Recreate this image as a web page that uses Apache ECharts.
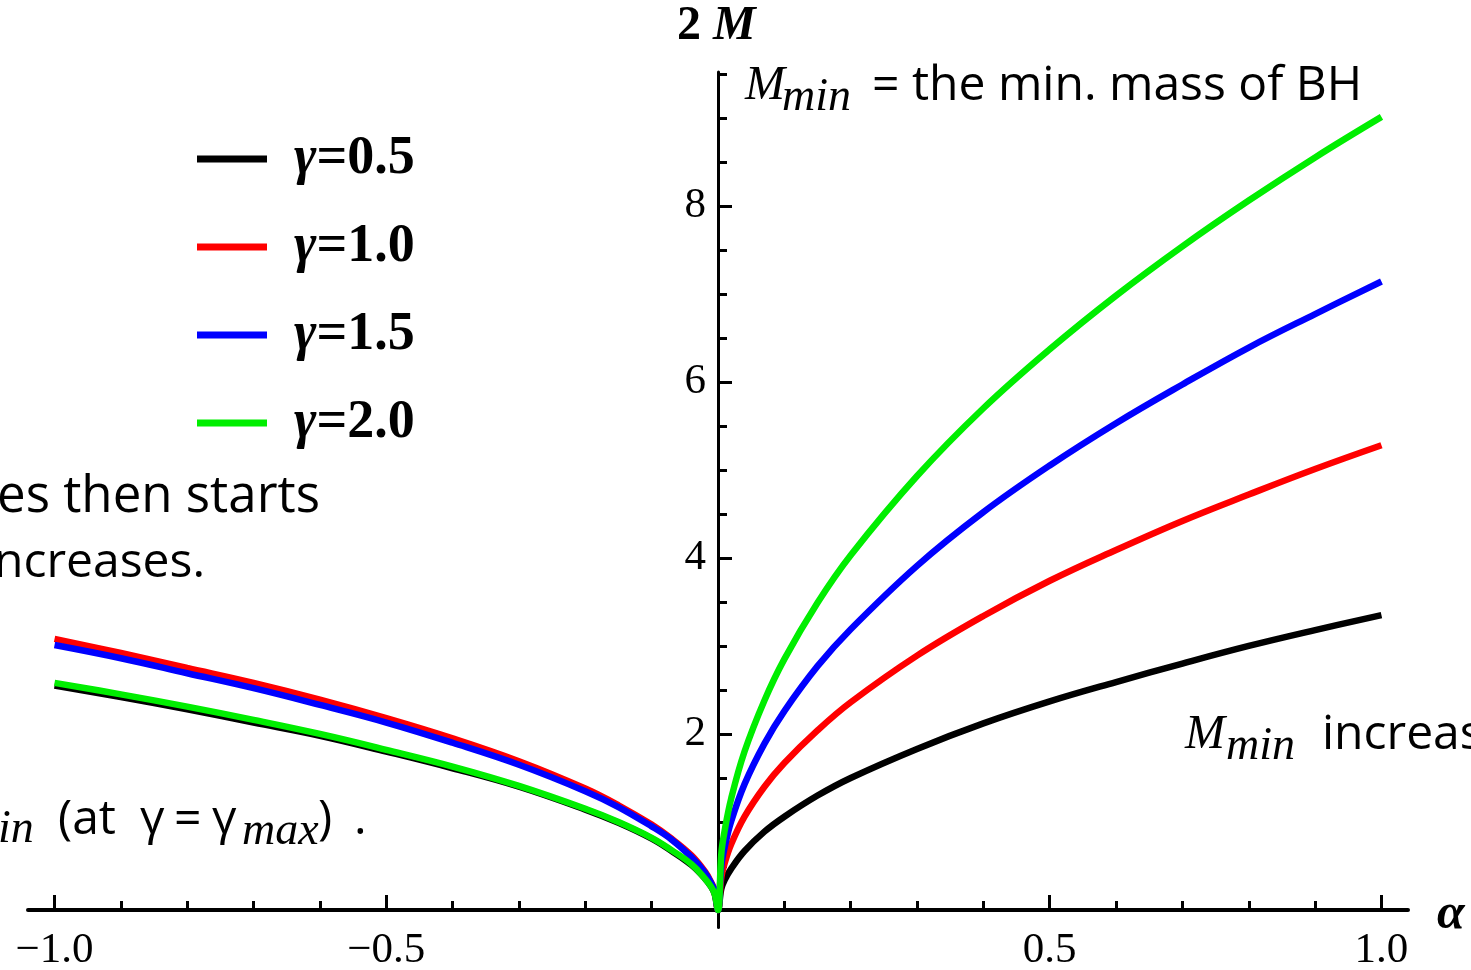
<!DOCTYPE html>
<html><head><meta charset="utf-8">
<script src="https://cdn.jsdelivr.net/npm/echarts@6/dist/echarts.min.js"></script>
<style>html,body{margin:0;padding:0;background:#fff;}#c{width:1471px;height:970px;}</style>
</head><body><div id="c"></div>
<script>
// alpha values (x)
const alpha = [-1,-0.9,-0.8,-0.7,-0.6,-0.5,-0.4,-0.3,-0.2,-0.15,-0.1,-0.07,-0.04,-0.02,-0.01,-0.005,0,
               0.005,0.01,0.02,0.04,0.07,0.1,0.15,0.2,0.3,0.4,0.5,0.6,0.7,0.8,0.9,1];
// 2M for each gamma
const gamma05 = [2.55,2.42,2.28,2.13,1.98,1.80,1.61,1.40,1.14,0.99,0.81,0.67,0.51,0.36,0.26,0.18,0,
                 0.24,0.34,0.47,0.67,0.89,1.06,1.30,1.50,1.83,2.12,2.37,2.59,2.80,3.00,3.18,3.35];
const gamma10 = [3.08,2.92,2.75,2.58,2.39,2.18,1.95,1.69,1.38,1.19,0.97,0.81,0.62,0.44,0.31,0.22,0,
                 0.37,0.53,0.75,1.06,1.40,1.67,2.04,2.36,2.89,3.34,3.74,4.09,4.42,4.72,5.01,5.28];
const gamma15 = [3.01,2.86,2.69,2.52,2.33,2.13,1.90,1.65,1.35,1.17,0.95,0.80,0.60,0.43,0.30,0.21,0,
                 0.50,0.71,1.01,1.43,1.89,2.26,2.77,3.19,3.91,4.52,5.05,5.53,5.97,6.39,6.77,7.14];
const gamma20 = [2.58,2.45,2.31,2.16,2.00,1.82,1.63,1.41,1.15,1.00,0.82,0.68,0.52,0.36,0.26,0.18,0,
                 0.64,0.90,1.27,1.80,2.38,2.85,3.49,4.03,4.93,5.70,6.37,6.98,7.54,8.06,8.55,9.01];
const seriesNames = ['γ=0.5','γ=1.0','γ=1.5','γ=2.0'];
const seriesColors = ['#000000','#ff0000','#0000ff','#00ee00'];
const xMajorTicks = [-1,-0.5,0.5,1];
const xMinorTicks = [-0.9,-0.8,-0.7,-0.6,-0.4,-0.3,-0.2,-0.1,0.1,0.2,0.3,0.4,0.6,0.7,0.8,0.9];
const yMajorTicks = [2,4,6,8];
const yMinorTicks = [0.5,1,1.5,2.5,3,3.5,4.5,5,5.5,6.5,7,7.5,8.5,9,9.5];

const allData = [gamma05, gamma10, gamma15, gamma20];
const serif = '"Liberation Serif", "Times New Roman", serif';
const sans = '"Open Sans", "Noto Sans", sans-serif';

const X_MIN = -1.04, X_MAX = 1.04, Y_MIN = -0.2, Y_MAX = 9.52;
const G = {left: 28, right: 63, top: 72, bottom: 42.4};
const W = 1471, H = 970;
// offsets to put the axes through the origin (labels included)
const yOff = -((0 - X_MIN) / (X_MAX - X_MIN)) * (W - G.left - G.right);
const xOff = -((0 - Y_MIN) / (Y_MAX - Y_MIN)) * (H - G.top - G.bottom);

const chart = echarts.init(document.getElementById('c'), null, {renderer:'canvas'});
const series = allData.map((vals, i) => ({
  name: seriesNames[i], type: 'line', xAxisIndex: 0, yAxisIndex: 0,
  data: alpha.map((a, k) => [a, vals[k]]),
  showSymbol: false, smooth: 0.4,
  color: seriesColors[i],
  lineStyle: {width: 6.5, color: seriesColors[i]},
  z: 2 + i, silent: true, animation: false
}));

const tickStyle = {color:'#000', width:3};
const option = {
  animation: false,
  backgroundColor: '#fff',
  grid: {left: G.left, right: G.right, top: G.top, bottom: G.bottom, containLabel: false, outerBoundsMode: 'none'},
  xAxis: [
    {type:'value', min:X_MIN, max:X_MAX, position:'bottom', offset:xOff,
     axisLine:{onZero:false, lineStyle:{color:'#000', width:4}},
     axisTick:{inside:true, length:15, lineStyle:tickStyle, customValues:xMajorTicks},
     axisLabel:{customValues:xMajorTicks, color:'#000', fontSize:43, fontFamily:serif, margin:19,
       formatter: v => (v < 0 ? '\u2212' : '') + Math.abs(v).toFixed(1)},
     splitLine:{show:false}},
    {type:'value', min:X_MIN, max:X_MAX, position:'bottom', offset:xOff,
     axisLine:{show:false, onZero:false},
     axisTick:{inside:true, length:9, lineStyle:tickStyle, customValues:xMinorTicks},
     axisLabel:{show:false}, splitLine:{show:false}}
  ],
  yAxis: [
    {type:'value', min:Y_MIN, max:Y_MAX, position:'left', offset:yOff,
     axisLine:{onZero:false, lineStyle:{color:'#000', width:3}},
     axisTick:{inside:true, length:14, lineStyle:tickStyle, customValues:yMajorTicks},
     axisLabel:{customValues:yMajorTicks, color:'#000', fontSize:43, fontFamily:serif, margin:12},
     splitLine:{show:false}},
    {type:'value', min:Y_MIN, max:Y_MAX, position:'left', offset:yOff,
     axisLine:{show:false, onZero:false},
     axisTick:{inside:true, length:9, lineStyle:tickStyle, customValues:yMinorTicks},
     axisLabel:{show:false}, splitLine:{show:false}}
  ],
  legend: {
    orient:'vertical', left:197, top:132, padding:0, itemGap:34,
    icon:'rect', itemWidth:70, itemHeight:7,
    data: seriesNames,
    formatter: name => '{g|γ}{t|' + name.slice(1) + '}',
    textStyle: {color:'#000', fontSize:54, fontFamily:serif, fontWeight:'bold', padding:[0,0,0,22],
      rich: {
        g: {fontStyle:'italic', fontWeight:'bold', fontSize:54, fontFamily:serif, color:'#000'},
        t: {fontWeight:'bold', fontSize:54, fontFamily:serif, color:'#000'}
      }}
  },
  graphic: [
    // axis titles
    {type:'text', left:677, top:3, style:{text:'{a|2 }{b|M}', rich:{
        a:{font:'bold 48px ' + serif, fill:'#000'}, b:{font:'bold italic 48px ' + serif, fill:'#000'}}}},
    {type:'text', left:1437, top:890, style:{text:'α', font:'bold italic 50px ' + serif, fill:'#000'}},
    // overlay annotations
    {type:'text', x:745, y:86, style:{text:'M', font:'italic 48px ' + serif, fill:'#000', verticalAlign:'middle'}},
    {type:'text', x:782, y:98, style:{text:'min', font:'italic 46px ' + serif, fill:'#000', verticalAlign:'middle'}},
    {type:'text', x:872, y:86, style:{text:'= the min. mass of BH', font:'48px ' + sans, fill:'#000', verticalAlign:'middle'}},
    {type:'text', x:-3, y:497, style:{text:'es then starts', font:'51px ' + sans, fill:'#000', verticalAlign:'middle'}},
    {type:'text', x:-6, y:563, style:{text:'ncreases.', font:'48px ' + sans, fill:'#000', verticalAlign:'middle'}},
    {type:'text', x:-2, y:830, style:{text:'in', font:'italic 46px ' + serif, fill:'#000', verticalAlign:'middle'}},
    {type:'text', x:58, y:820, style:{text:'(at', font:'48px ' + sans, fill:'#000', verticalAlign:'middle'}},
    {type:'text', x:140, y:820, style:{text:'γ', font:'48px ' + sans, fill:'#000', verticalAlign:'middle'}},
    {type:'text', x:174, y:820, style:{text:'=', font:'48px ' + sans, fill:'#000', verticalAlign:'middle'}},
    {type:'text', x:212, y:820, style:{text:'γ', font:'48px ' + sans, fill:'#000', verticalAlign:'middle'}},
    {type:'text', x:242, y:832, style:{text:'max', font:'italic 46px ' + serif, fill:'#000', verticalAlign:'middle'}},
    {type:'text', x:318, y:820, style:{text:')', font:'48px ' + sans, fill:'#000', verticalAlign:'middle'}},
    {type:'text', x:354, y:820, style:{text:'.', font:'48px ' + sans, fill:'#000', verticalAlign:'middle'}},
    {type:'text', x:1185, y:735, style:{text:'M', font:'italic 48px ' + serif, fill:'#000', verticalAlign:'middle'}},
    {type:'text', x:1226, y:747, style:{text:'min', font:'italic 46px ' + serif, fill:'#000', verticalAlign:'middle'}},
    {type:'text', x:1322, y:735, style:{text:'increas', font:'48px ' + sans, fill:'#000', verticalAlign:'middle'}}
  ],
  series: series
};
chart.setOption(option);
</script>
</body></html>
